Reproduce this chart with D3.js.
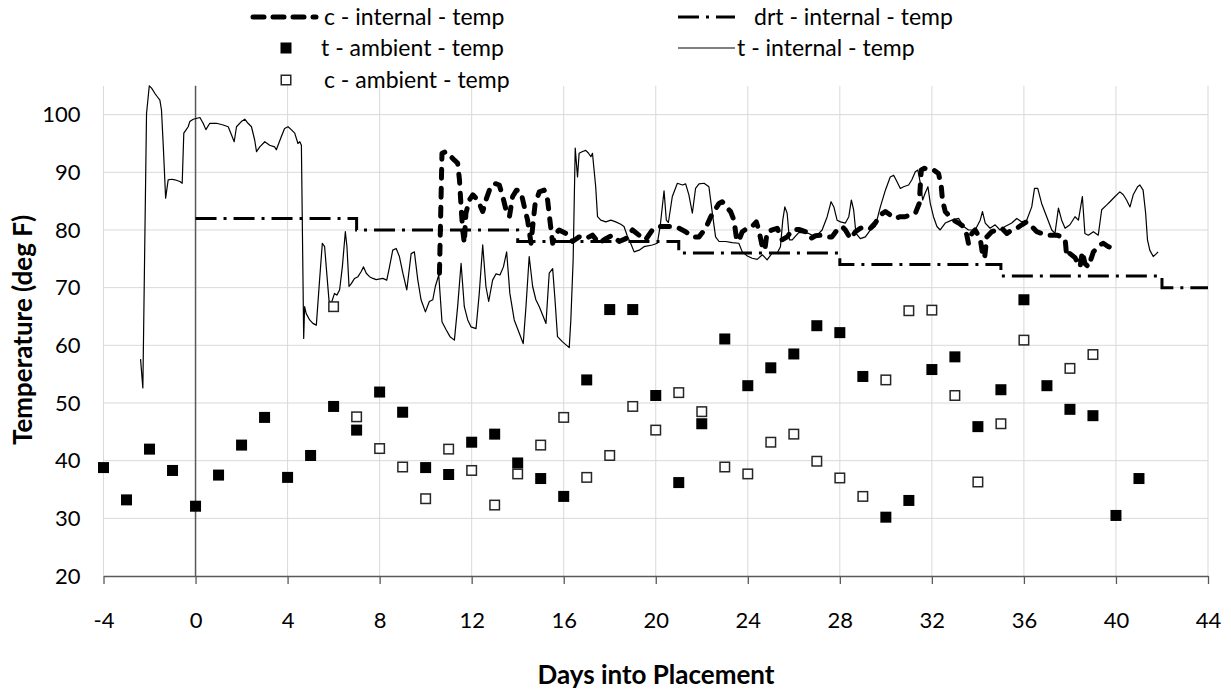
<!DOCTYPE html>
<html><head><meta charset="utf-8">
<script src="https://cdn.jsdelivr.net/npm/d3@7"></script>
<style>
body{margin:0;background:#fff}
svg{display:block}
text{font-family:Lato,"Open Sans",sans-serif;fill:#000}
</style>
</head><body>
<svg id="chart" width="1231" height="690"></svg>
<script>
// ---------- data ----------
const xTicks = [-4,0,4,8,12,16,20,24,28,32,36,40,44];
const yTicks = [20,30,40,50,60,70,80,90,100];

const tInternalDays = [-2.39,-2.29,-2.13,-2.01,-1.91,-1.77,-1.66,-1.55,-1.48,-1.40,-1.30,-1.19,-1.04,-0.90,-0.68,-0.58,-0.51,-0.42,-0.32,-0.25,-0.10,0.19,0.33,0.45,0.62,0.91,1.20,1.42,1.56,1.68,1.78,1.99,2.14,2.28,2.43,2.57,2.65,2.79,3.01,3.22,3.44,3.51,3.73,3.87,4.02,4.16,4.31,4.45,4.53,4.60,4.70,4.74,4.81,4.96,5.10,5.25,5.39,5.51,5.61,5.68,5.80,5.90,6.04,6.14,6.26,6.38,6.51,6.58,6.67,6.77,6.91,7.06,7.20,7.30,7.42,7.56,7.71,7.85,8.14,8.31,8.43,8.57,8.72,8.86,9.01,9.18,9.37,9.51,9.66,9.80,9.99,10.16,10.31,10.42,10.57,10.71,10.89,11.06,11.25,11.39,11.54,11.68,11.83,11.97,12.19,12.33,12.48,12.62,12.74,12.91,13.06,13.23,13.38,13.52,13.66,13.85,14.07,14.24,14.36,14.50,14.65,14.79,14.94,15.11,15.23,15.37,15.52,15.62,15.73,15.95,16.24,16.31,16.41,16.50,16.60,16.67,16.82,16.96,17.08,17.18,17.25,17.39,17.47,17.61,17.83,18.05,18.26,18.48,18.62,18.76,18.91,19.06,19.28,19.49,19.85,20.07,20.20,20.36,20.46,20.55,20.72,20.94,21.16,21.30,21.44,21.59,21.73,21.88,22.10,22.31,22.46,22.60,22.75,23.04,23.32,23.61,23.76,23.98,24.19,24.41,24.63,24.84,25.06,25.28,25.42,25.52,25.61,25.71,25.81,25.93,26.22,26.65,26.94,27.23,27.45,27.62,27.74,27.88,28.03,28.24,28.39,28.50,28.60,28.70,28.89,29.11,29.33,29.54,29.76,29.98,30.19,30.34,30.48,30.63,30.77,30.99,31.13,31.28,31.39,31.50,31.60,31.71,31.83,31.93,32.07,32.22,32.36,32.58,32.87,33.16,33.38,33.59,33.88,34.10,34.20,34.32,34.53,34.75,34.96,35.18,35.47,35.69,35.91,36.12,36.34,36.46,36.60,36.77,36.99,37.21,37.35,37.50,37.64,37.79,38.00,38.22,38.37,38.54,38.65,38.80,39.02,39.23,39.38,39.59,39.74,39.96,40.17,40.32,40.46,40.61,40.75,40.94,41.04,41.18,41.29,41.37,41.47,41.62,41.76,41.83];
const tInternalTemps = [57.6,52.6,100.2,105.0,104.6,103.7,103.1,102.5,100.8,94.4,85.5,88.7,88.8,88.7,88.4,88.1,96.8,97.3,97.9,98.8,99.2,99.5,98.5,97.4,98.5,98.5,98.2,97.9,96.5,95.3,97.9,98.8,99.2,98.5,97.9,95.6,93.6,94.4,95.3,94.7,94.4,93.9,96.2,97.6,97.9,97.4,96.8,95.0,95.3,94.7,61.2,66.7,65.5,64.4,63.8,63.5,71.3,77.7,77.1,73.6,67.8,67.3,69.0,68.7,69.6,73.6,79.7,77.1,70.2,70.7,71.6,71.9,72.8,73.6,72.5,71.9,71.6,71.4,71.6,71.3,73.6,76.5,76.8,75.4,72.5,69.6,75.9,76.2,71.3,67.9,65.8,67.6,67.9,70.2,72.2,64.1,62.7,61.5,60.9,66.7,74.2,66.7,64.4,63.2,62.9,69.0,77.4,70.2,67.6,71.3,72.4,72.2,73.6,76.2,69.0,64.4,62.1,60.3,66.7,75.4,70.2,67.9,66.7,65.0,63.8,72.5,73.3,68.0,61.5,60.6,59.6,64.4,74.8,94.2,89.2,93.3,93.6,93.8,93.3,92.7,93.3,87.5,82.3,81.7,81.4,81.7,81.4,81.0,80.6,79.0,77.7,76.2,76.5,77.1,77.4,77.7,80.9,86.8,81.7,81.3,85.8,88.1,87.8,88.0,86.1,82.9,87.2,88.0,88.1,87.5,82.9,78.8,78.0,78.0,77.8,77.7,76.2,75.5,75.1,74.9,75.7,74.8,76.0,76.0,77.1,81.7,84.0,82.9,78.3,78.3,79.6,79.4,78.8,80.0,82.3,84.9,84.0,81.7,81.4,81.2,82.3,85.2,83.5,79.4,78.5,78.8,80.0,80.6,84.0,86.9,89.2,89.5,88.4,87.2,87.5,87.8,88.7,90.1,90.4,88.1,85.2,86.4,87.5,84.6,82.3,80.6,80.0,81.2,81.7,82.0,80.6,80.0,80.0,81.7,83.2,81.2,80.3,80.9,80.0,80.6,81.2,82.0,81.4,81.7,84.0,87.2,87.2,84.6,82.3,80.0,79.4,83.8,81.7,80.3,80.9,82.3,81.7,85.8,79.4,79.1,79.7,79.1,83.5,84.3,84.9,85.8,86.6,86.1,85.2,84.0,86.1,87.5,87.8,86.9,82.9,78.3,76.5,75.4,75.9,76.2];

const cInternalDays = [10.60,10.71,10.89,11.03,11.25,11.39,11.47,11.54,11.61,11.68,11.75,11.90,12.05,12.19,12.33,12.48,12.62,12.77,12.98,13.20,13.35,13.49,13.64,13.78,13.95,14.14,14.29,14.43,14.58,14.68,14.76,14.94,15.15,15.30,15.40,15.52,15.66,15.80,16.09,16.38,16.67,16.96,17.25,17.54,17.83,18.12,18.41,18.70,18.99,19.27,19.56,19.85,20.14,20.43,20.79,21.01,21.30,21.59,21.88,22.17,22.39,22.75,22.89,23.11,23.25,23.40,23.50,23.59,23.76,23.98,24.19,24.37,24.48,24.63,24.74,24.84,25.06,25.28,25.49,25.71,25.93,26.22,26.51,26.72,26.94,27.23,27.45,27.66,27.88,28.10,28.24,28.46,28.68,28.89,29.11,29.33,29.54,29.76,29.98,30.19,30.41,30.63,30.84,31.06,31.28,31.45,31.54,31.68,31.86,32.07,32.29,32.41,32.46,32.58,32.72,32.94,33.16,33.38,33.52,33.59,33.74,33.88,34.10,34.20,34.29,34.39,34.60,34.82,35.04,35.26,35.47,35.69,35.91,36.12,36.34,36.56,36.77,36.99,37.21,37.43,37.64,37.79,37.86,38.00,38.22,38.44,38.54,38.65,38.80,39.02,39.30,39.45,39.67,39.88];
const cInternalTemps = [72.5,93.3,93.6,93.0,92.1,91.6,88.7,84.0,80.0,77.7,82.9,85.2,86.1,85.5,84.6,83.2,85.2,86.9,88.1,87.8,85.8,83.5,82.3,85.8,86.9,86.6,84.0,81.7,77.7,81.7,84.6,86.6,86.9,85.2,81.7,77.7,79.4,80.0,79.4,78.0,78.8,78.5,79.1,77.7,78.5,79.1,78.0,78.5,80.0,79.1,78.3,80.0,80.6,80.6,80.6,80.3,79.7,78.8,78.8,80.3,82.3,84.6,84.9,83.8,83.2,81.7,78.8,78.0,79.7,80.3,80.6,81.4,80.0,77.1,76.5,79.7,80.0,80.3,78.3,78.8,80.0,80.1,79.7,78.5,79.0,79.1,78.8,78.8,80.0,80.6,80.0,78.5,79.7,80.3,80.6,80.3,81.2,82.6,83.2,82.6,82.0,82.3,82.3,82.6,82.9,84.6,90.4,90.7,90.4,90.4,89.8,87.5,85.2,83.2,82.6,81.7,81.2,80.6,79.1,77.7,79.4,80.0,78.5,75.9,75.1,78.8,79.7,80.0,80.3,79.4,80.0,80.3,80.9,81.4,80.6,79.7,79.4,79.1,79.1,79.1,78.8,78.5,75.4,75.9,75.2,73.6,76.2,74.2,73.6,76.2,77.4,77.7,77.1,76.8];

const drtDays = [0,7,14,21,28,35,42,44];
const drtTemps = [82,80,78,76,74,72,70,70];

const tAmbientDays = [-4,-3,-2,-1,0,1,2,3,4,5,6,7,8,9,10,11,12,13,14,15,16,17,18,19,20,21,22,23,24,25,26,27,28,29,30,31,32,33,34,35,36,37,38,39,40,41];
const tAmbientTemps = [38.8,33.2,42.0,38.3,32.1,37.5,42.7,47.5,37.1,40.9,49.4,45.3,51.9,48.4,38.8,37.6,43.2,44.6,39.6,36.9,33.8,54.0,66.2,66.2,51.3,36.2,46.4,61.1,53.0,56.1,58.5,63.4,62.2,54.6,30.2,33.1,55.8,58.0,45.9,52.3,67.9,53.0,48.9,47.8,30.5,36.9];

const cAmbientDays = [6,7,8,9,10,11,12,13,14,15,16,17,18,19,20,21,22,23,24,25,26,27,28,29,30,31,32,33,34,35,36,38,39];
const cAmbientTemps = [66.7,47.6,42.1,38.9,33.4,42.0,38.3,32.3,37.7,42.7,47.5,37.1,40.9,49.4,45.3,51.8,48.5,38.9,37.7,43.2,44.6,39.9,37.0,33.8,54.0,66.0,66.1,51.3,36.3,46.4,60.9,56.0,58.4];

const legendLabels = ["c - internal - temp","drt - internal - temp","t - ambient - temp","t - internal - temp","c - ambient - temp"];
const xTitle = "Days into Placement";
const yTitle = "Temperature (deg F)";

// ---------- layout ----------
const svg = d3.select("#chart");
const x = d3.scaleLinear().domain([-4,44]).range([103.5,1208]);
const y = d3.scaleLinear().domain([20,105]).range([576,85.8]);

const gridColor = "#d9d9d9", axisColor = "#595959";
const tickFont = "22px", legendFont = "23px", titleFont = "26px";
const fmt = d => (d < 0 ? "-" + Math.abs(d) : String(d));

// gridlines
svg.append("g").selectAll("line").data(yTicks.slice(1)).join("line")
  .attr("x1",x(-4)).attr("x2",x(44)).attr("y1",d=>y(d)).attr("y2",d=>y(d))
  .attr("stroke",gridColor).attr("stroke-width",1);
svg.append("g").selectAll("line").data(xTicks.filter(d=>d!==0)).join("line")
  .attr("x1",d=>x(d)).attr("x2",d=>x(d)).attr("y1",y(20)).attr("y2",y(105))
  .attr("stroke",gridColor).attr("stroke-width",1);

// x axis
const xAxis = svg.append("g").attr("transform",`translate(0,${y(20)})`)
  .call(d3.axisBottom(x).tickValues(xTicks).tickSize(8).tickSizeOuter(0).tickFormat(fmt));
xAxis.select(".domain").attr("stroke",axisColor).attr("stroke-width",1.3);
xAxis.selectAll(".tick line").attr("stroke",axisColor).attr("stroke-width",1.3);
xAxis.selectAll(".tick text").attr("y",52).attr("dy",0)
  .style("font-family","Lato").style("font-size",tickFont).attr("fill","#000");

// y axis labels (at left edge of plot)
const yAxis = svg.append("g").attr("transform",`translate(${x(-4)},0)`)
  .call(d3.axisLeft(y).tickValues(yTicks).tickSize(0).tickPadding(23).tickFormat(fmt));
yAxis.select(".domain").remove();
yAxis.selectAll(".tick text").style("font-family","Lato").style("font-size",tickFont).attr("fill","#000");

// vertical value axis at day 0
svg.append("line").attr("x1",x(0)).attr("x2",x(0)).attr("y1",y(20)).attr("y2",y(105))
  .attr("stroke",axisColor).attr("stroke-width",1.5);

// ---------- series ----------
const line = d3.line().x(d=>x(d[0])).y(d=>y(d[1]));
const zip = (a,b)=>a.map((v,i)=>[v,b[i]]);

// drt step line
svg.append("path").datum(zip(drtDays,drtTemps))
  .attr("d", d3.line().x(d=>x(d[0])).y(d=>y(d[1])).curve(d3.curveStepAfter))
  .attr("fill","none").attr("stroke","#000").attr("stroke-width",3)
  .attr("stroke-dasharray","21,7,3,7");

// t internal
svg.append("path").datum(zip(tInternalDays,tInternalTemps))
  .attr("d",line).attr("fill","none").attr("stroke","#000").attr("stroke-width",1.2)
  .attr("stroke-linejoin","round");

// c internal
svg.append("path").datum(zip(cInternalDays,cInternalTemps))
  .attr("d",line).attr("fill","none").attr("stroke","#000").attr("stroke-width",5)
  .attr("stroke-dasharray","9,10").attr("stroke-linecap","round").attr("stroke-linejoin","round");

// markers
const ms = 11;
svg.append("g").selectAll("rect").data(zip(tAmbientDays,tAmbientTemps)).join("rect")
  .attr("x",d=>x(d[0])-ms/2).attr("y",d=>y(d[1])-ms/2).attr("width",ms).attr("height",ms)
  .attr("fill","#000");
svg.append("g").selectAll("rect").data(zip(cAmbientDays,cAmbientTemps)).join("rect")
  .attr("x",d=>x(d[0])-ms/2+0.75).attr("y",d=>y(d[1])-ms/2+0.75).attr("width",ms-1.5).attr("height",ms-1.5)
  .attr("fill","#fff").attr("stroke","#262626").attr("stroke-width",1.5);

// ---------- legend ----------
const lg = svg.append("g").style("font-family","Lato").style("font-size",legendFont);
const rowY = [17,48,80];
// row 1 left: c internal
lg.append("line").attr("x1",253).attr("x2",316).attr("y1",rowY[0]).attr("y2",rowY[0])
  .attr("stroke","#000").attr("stroke-width",5).attr("stroke-dasharray","11,9").attr("stroke-linecap","round");
lg.append("text").attr("x",324).attr("y",rowY[0]+8).text(legendLabels[0]);
// row 1 right: drt
lg.append("line").attr("x1",678).attr("x2",735).attr("y1",rowY[0]).attr("y2",rowY[0])
  .attr("stroke","#000").attr("stroke-width",3).attr("stroke-dasharray","21,7,3,7");
lg.append("text").attr("x",754).attr("y",rowY[0]+8).text(legendLabels[1]);
// row 2 left: t ambient
lg.append("rect").attr("x",286-ms/2).attr("y",rowY[1]-ms/2).attr("width",ms).attr("height",ms).attr("fill","#000");
lg.append("text").attr("x",321).attr("y",rowY[1]+8).text(legendLabels[2]);
// row 2 right: t internal
lg.append("line").attr("x1",678).attr("x2",735).attr("y1",rowY[1]).attr("y2",rowY[1])
  .attr("stroke","#000").attr("stroke-width",1.2);
lg.append("text").attr("x",737).attr("y",rowY[1]+8).text(legendLabels[3]);
// row 3 left: c ambient
lg.append("rect").attr("x",286-ms/2+0.75).attr("y",rowY[2]-ms/2+0.75).attr("width",ms-1.5).attr("height",ms-1.5)
  .attr("fill","#fff").attr("stroke","#262626").attr("stroke-width",1.5);
lg.append("text").attr("x",324).attr("y",rowY[2]+8).text(legendLabels[4]);

// ---------- titles ----------
svg.append("text").attr("x",656).attr("y",684).attr("text-anchor","middle")
  .style("font-family","Lato").style("font-weight","bold").style("font-size",titleFont).text(xTitle);
svg.append("text").attr("transform","translate(32,330) rotate(-90)").attr("text-anchor","middle")
  .style("font-family","Lato").style("font-weight","bold").style("font-size",titleFont).text(yTitle);
</script>
</body></html>
